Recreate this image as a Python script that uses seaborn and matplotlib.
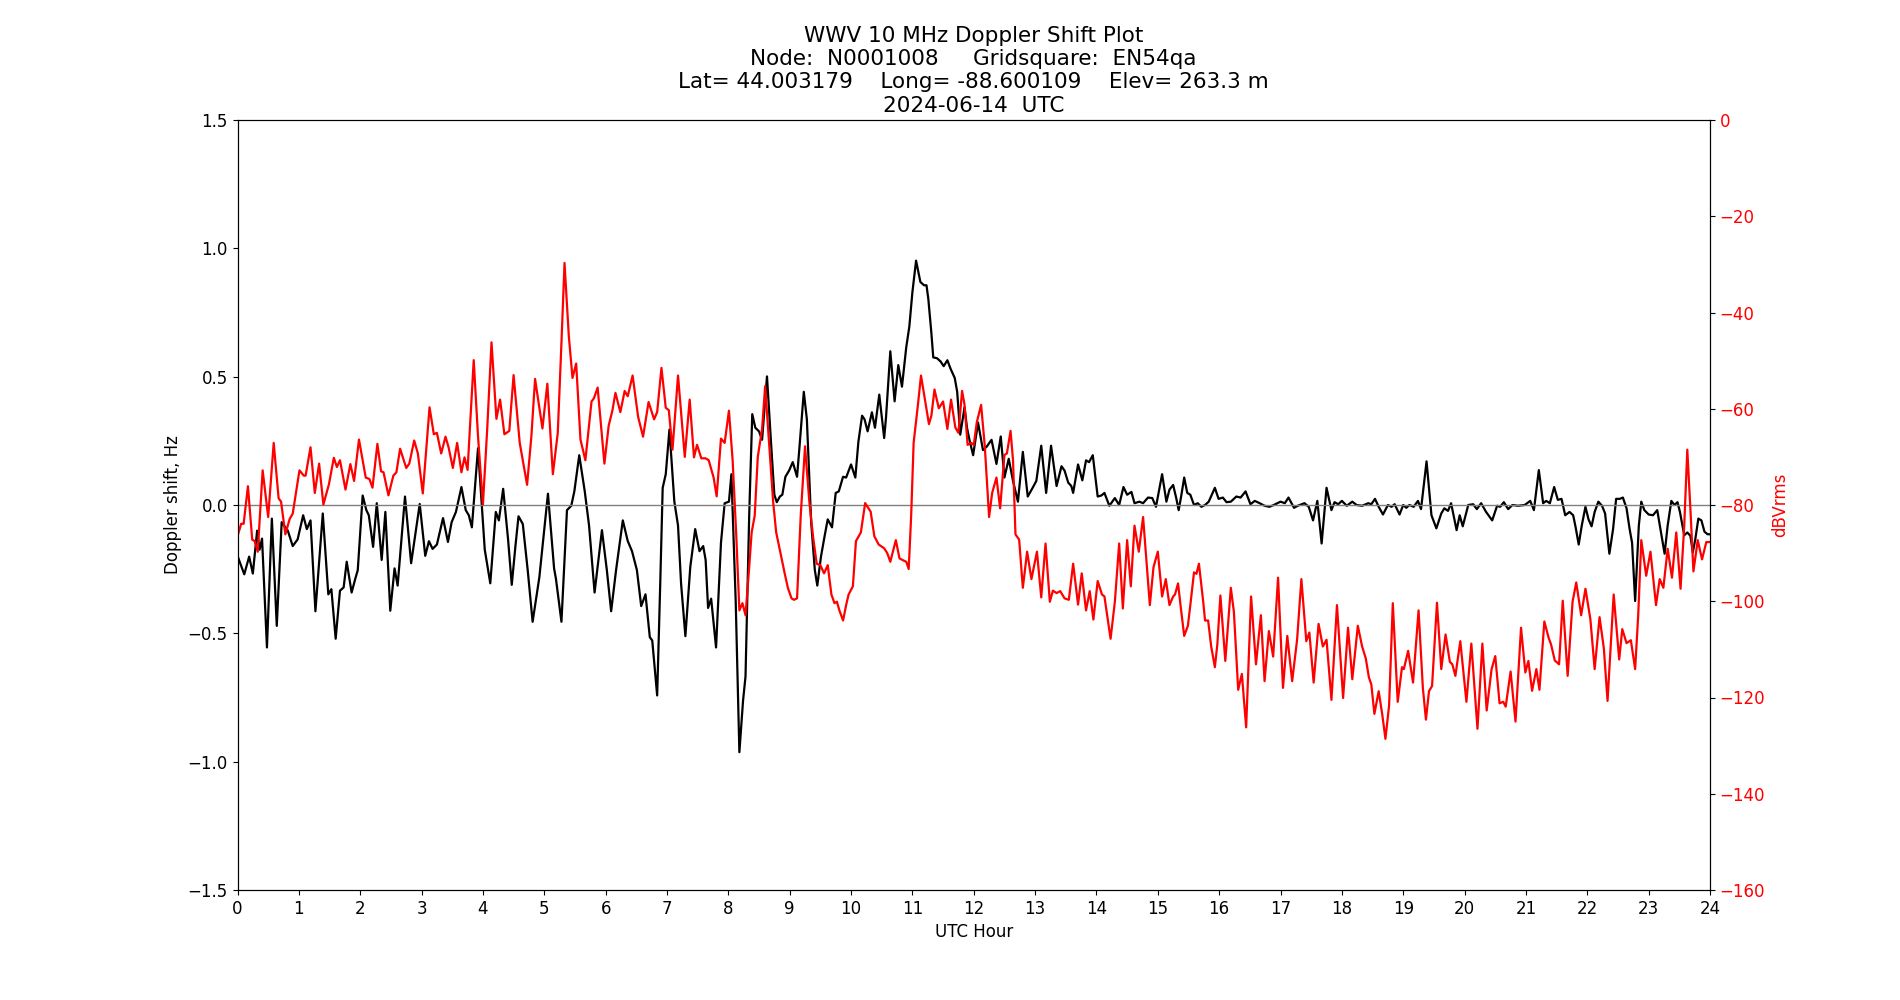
import numpy as np
import pandas as pd
import seaborn as sns
import matplotlib
matplotlib.use("Agg")
import matplotlib.pyplot as plt

### values (UTC hour, Doppler shift in Hz, signal level in dBVrms)
doppler_hour = [
    0.00, 0.11, 0.19, 0.25, 0.32, 0.36, 0.40, 0.48, 0.56, 0.64, 0.72, 0.82, 0.90, 0.98,
    1.07, 1.13, 1.19, 1.27, 1.39, 1.48, 1.53, 1.60, 1.67, 1.73, 1.78, 1.86, 1.92, 1.96,
    2.04, 2.10, 2.14, 2.21, 2.27, 2.35, 2.41, 2.49, 2.56, 2.61, 2.73, 2.83, 2.97,
    3.06, 3.12, 3.18, 3.25, 3.35, 3.43, 3.49, 3.56, 3.65, 3.72, 3.77, 3.82, 3.92,
    4.03, 4.12, 4.21, 4.26, 4.33, 4.41, 4.47, 4.53, 4.58, 4.65, 4.73, 4.81, 4.92,
    5.06, 5.16, 5.19, 5.28, 5.37, 5.44, 5.49, 5.57, 5.66, 5.73, 5.82, 5.94,
    6.02, 6.09, 6.17, 6.28, 6.36, 6.43, 6.51, 6.58, 6.65, 6.72, 6.76, 6.84, 6.89, 6.93, 6.98,
    7.04, 7.12, 7.18, 7.23, 7.30, 7.38, 7.46, 7.53, 7.59, 7.63, 7.67, 7.72, 7.80, 7.88, 7.94,
    8.01, 8.05, 8.12, 8.18, 8.24, 8.28, 8.34, 8.39, 8.44, 8.50, 8.55, 8.63, 8.70, 8.75, 8.79, 8.84, 8.88, 8.93, 8.99,
    9.05, 9.12, 9.16, 9.23, 9.28, 9.35, 9.41, 9.45, 9.51, 9.57, 9.62, 9.69, 9.75, 9.80, 9.87, 9.92,
    10.00, 10.07, 10.12, 10.18, 10.22, 10.27, 10.34, 10.39, 10.46, 10.54, 10.57, 10.64, 10.71, 10.77, 10.83, 10.90, 10.95, 11.00,
    11.06, 11.13, 11.19, 11.23, 11.26, 11.31, 11.34, 11.40, 11.46, 11.51, 11.57, 11.62, 11.69, 11.73, 11.78, 11.85, 11.89, 11.93, 11.99,
    12.07, 12.15, 12.21, 12.29, 12.37, 12.44, 12.50, 12.57, 12.64, 12.72, 12.80, 12.88, 12.96,
    13.02, 13.10, 13.18, 13.26, 13.35, 13.43, 13.48, 13.54, 13.59, 13.62, 13.70, 13.77, 13.83, 13.88, 13.94,
    14.02, 14.08, 14.13, 14.21, 14.30, 14.37, 14.44, 14.50, 14.57, 14.62, 14.70, 14.76, 14.84, 14.91, 14.97,
    15.07, 15.14, 15.19, 15.25, 15.30, 15.34, 15.38, 15.43, 15.48, 15.53, 15.59, 15.65, 15.71, 15.77, 15.83, 15.93, 15.99,
    16.06, 16.12, 16.19, 16.28, 16.35, 16.43, 16.51, 16.58, 16.66, 16.74, 16.82, 16.89,
    17.00, 17.07, 17.13, 17.22, 17.28, 17.39, 17.46, 17.53, 17.60, 17.67, 17.75, 17.83, 17.88, 17.94,
    18.00, 18.08, 18.17, 18.24, 18.33, 18.43, 18.48, 18.54, 18.60, 18.67, 18.75, 18.81, 18.86, 18.94, 19.00,
    19.05, 19.10, 19.17, 19.24, 19.29, 19.38, 19.46, 19.54, 19.62, 19.67, 19.73, 19.78, 19.87, 19.92, 19.97,
    20.06, 20.14, 20.20, 20.27, 20.35, 20.45, 20.53, 20.58, 20.64, 20.71, 20.78, 20.87, 20.98,
    21.07, 21.13, 21.21, 21.28, 21.33, 21.39, 21.46, 21.52, 21.58, 21.64, 21.71, 21.77, 21.81, 21.86, 21.91, 21.97,
    22.02, 22.07, 22.12, 22.18, 22.24, 22.29, 22.36, 22.42, 22.47, 22.53, 22.58, 22.64, 22.69, 22.73, 22.78, 22.84, 22.88, 22.93,
    23.00, 23.07, 23.14, 23.21, 23.26, 23.31, 23.37, 23.42, 23.47, 23.51, 23.58, 23.63, 23.68, 23.72, 23.76, 23.81, 23.86, 23.91, 23.96, 24.00,
]
doppler_hz = [
    -0.198, -0.270, -0.201, -0.267, -0.100, -0.174, -0.131, -0.555, -0.053, -0.471, -0.067, -0.100, -0.160, -0.134,
    -0.040, -0.094, -0.060, -0.414, -0.033, -0.348, -0.328, -0.521, -0.334, -0.321, -0.221, -0.341, -0.287, -0.254,
    0.037, -0.020, -0.040, -0.163, 0.007, -0.214, -0.027, -0.412, -0.247, -0.314, 0.033, -0.227, 0.004,
    -0.198, -0.141, -0.171, -0.154, -0.051, -0.144, -0.067, -0.027, 0.070, -0.020, -0.040, -0.087, 0.221,
    -0.174, -0.305, -0.027, -0.060, 0.063, -0.134, -0.311, -0.160, -0.044, -0.074, -0.254, -0.455, -0.281,
    0.044, -0.247, -0.287, -0.455, -0.020, -0.003, 0.053, 0.194, 0.053, -0.080, -0.341, -0.098,
    -0.254, -0.414, -0.254, -0.060, -0.140, -0.180, -0.254, -0.394, -0.348, -0.515, -0.528, -0.742, -0.307, 0.067, 0.120,
    0.294, 0.013, -0.080, -0.307, -0.511, -0.241, -0.094, -0.180, -0.160, -0.214, -0.401, -0.365, -0.555, -0.147, 0.007,
    0.013, 0.120, -0.374, -0.963, -0.762, -0.668, -0.040, 0.354, 0.301, 0.287, 0.254, 0.501, 0.227, 0.040, 0.011, 0.033, 0.040, 0.110, 0.134,
    0.167, 0.110, 0.227, 0.441, 0.334, -0.067, -0.254, -0.314, -0.201, -0.120, -0.056, -0.087, 0.047, 0.053, 0.110, 0.107,
    0.158, 0.107, 0.247, 0.348, 0.334, 0.287, 0.361, 0.301, 0.430, 0.261, 0.341, 0.599, 0.404, 0.545, 0.461, 0.615, 0.695, 0.829,
    0.952, 0.869, 0.856, 0.856, 0.802, 0.668, 0.575, 0.572, 0.559, 0.541, 0.564, 0.532, 0.495, 0.441, 0.274, 0.381, 0.301, 0.254, 0.194,
    0.321, 0.214, 0.227, 0.254, 0.160, 0.267, 0.107, 0.180, 0.094, 0.013, 0.207, 0.033, 0.067,
    0.094, 0.231, 0.047, 0.231, 0.074, 0.151, 0.134, 0.087, 0.074, 0.047, 0.158, 0.096, 0.174, 0.167, 0.194,
    0.033, 0.037, 0.047, -0.003, 0.027, 0.000, 0.070, 0.040, 0.051, 0.007, 0.013, 0.007, 0.029, 0.027, -0.007,
    0.120, 0.013, 0.060, 0.078, 0.027, -0.020, 0.033, 0.107, 0.047, 0.040, 0.000, 0.007, -0.007, 0.000, 0.013, 0.067, 0.024,
    0.029, 0.011, 0.013, 0.033, 0.029, 0.053, 0.003, 0.016, 0.007, -0.003, -0.007, 0.000,
    0.013, 0.007, 0.029, -0.011, -0.003, 0.007, -0.007, -0.060, 0.016, -0.150, 0.067, -0.020, 0.011, 0.003,
    0.016, -0.003, 0.013, 0.000, -0.003, 0.007, 0.003, 0.024, -0.007, -0.037, 0.000, -0.007, 0.003, -0.037, 0.000,
    -0.011, 0.000, -0.007, 0.016, -0.016, 0.170, -0.040, -0.091, -0.033, -0.013, -0.023, 0.007, -0.098, -0.040, -0.083,
    0.000, 0.003, -0.016, 0.007, -0.027, -0.060, -0.003, -0.007, 0.011, -0.016, 0.000, -0.003, 0.000,
    0.016, -0.020, 0.136, 0.007, 0.016, 0.007, 0.070, 0.020, 0.024, -0.040, -0.027, -0.040, -0.087, -0.154, -0.080, -0.007,
    -0.056, -0.083, -0.027, 0.013, -0.003, -0.033, -0.190, -0.094, 0.024, 0.024, 0.029, -0.013, -0.094, -0.147, -0.374, -0.080, 0.013, -0.020,
    -0.037, -0.040, -0.020, -0.120, -0.190, -0.080, 0.016, 0.000, 0.011, -0.027, -0.118, -0.107, -0.120, -0.184, -0.134, -0.053, -0.060, -0.104, -0.114, -0.114,
]

level_hour = [
    0.00, 0.06, 0.10, 0.17, 0.24, 0.28, 0.33, 0.41, 0.50, 0.59, 0.67, 0.71, 0.78, 0.85, 0.90,
    1.01, 1.08, 1.11, 1.19, 1.26, 1.33, 1.40, 1.49, 1.57, 1.62, 1.67, 1.76, 1.84, 1.90, 1.98,
    2.09, 2.15, 2.20, 2.28, 2.34, 2.38, 2.46, 2.54, 2.59, 2.65, 2.75, 2.80, 2.88, 2.94,
    3.02, 3.13, 3.20, 3.25, 3.32, 3.39, 3.44, 3.51, 3.58, 3.65, 3.70, 3.75, 3.85, 3.92, 4.00,
    4.07, 4.14, 4.22, 4.28, 4.35, 4.43, 4.50, 4.60, 4.65, 4.72, 4.79, 4.85, 4.97,
    5.05, 5.14, 5.22, 5.28, 5.33, 5.40, 5.46, 5.52, 5.59, 5.67, 5.77, 5.81, 5.87, 5.98,
    6.05, 6.11, 6.16, 6.24, 6.31, 6.36, 6.44, 6.53, 6.61, 6.70, 6.79, 6.84, 6.91, 6.98,
    7.03, 7.09, 7.18, 7.29, 7.37, 7.44, 7.49, 7.56, 7.63, 7.68, 7.76, 7.81, 7.88, 7.94,
    8.01, 8.07, 8.13, 8.18, 8.23, 8.28, 8.34, 8.38, 8.43, 8.48, 8.55, 8.60, 8.66, 8.73, 8.78, 8.85, 8.92, 8.97,
    9.03, 9.07, 9.12, 9.18, 9.25, 9.32, 9.38, 9.44, 9.50, 9.56, 9.62, 9.68, 9.73, 9.77, 9.81, 9.87, 9.92, 9.96,
    10.03, 10.08, 10.16, 10.23, 10.32, 10.38, 10.45, 10.54, 10.59, 10.64, 10.73, 10.79, 10.85, 10.90, 10.94, 10.98,
    11.02, 11.09, 11.14, 11.20, 11.27, 11.31, 11.36, 11.43, 11.50, 11.57, 11.63, 11.70, 11.75, 11.81, 11.85, 11.90, 11.96,
    12.00, 12.05, 12.12, 12.18, 12.25, 12.30, 12.37, 12.43, 12.50, 12.54, 12.60, 12.64, 12.68, 12.74, 12.80, 12.87, 12.94,
    13.03, 13.10, 13.17, 13.24, 13.29, 13.35, 13.41, 13.48, 13.55, 13.62, 13.70, 13.76, 13.83, 13.89, 13.95,
    14.02, 14.09, 14.13, 14.23, 14.30, 14.37, 14.43, 14.50, 14.56, 14.62, 14.69, 14.76, 14.87, 14.93,
    15.00, 15.07, 15.13, 15.19, 15.25, 15.28, 15.33, 15.37, 15.43, 15.49, 15.53, 15.59, 15.63, 15.67, 15.74, 15.77, 15.82, 15.87, 15.93, 15.97,
    16.02, 16.10, 16.19, 16.24, 16.31, 16.37, 16.44, 16.52, 16.60, 16.68, 16.74, 16.81, 16.88, 16.96,
    17.04, 17.11, 17.19, 17.27, 17.34, 17.42, 17.47, 17.54, 17.62, 17.69, 17.75, 17.83, 17.92,
    18.02, 18.10, 18.17, 18.26, 18.33, 18.39, 18.44, 18.48, 18.53, 18.60, 18.66, 18.71, 18.77, 18.83, 18.91, 18.98,
    19.01, 19.08, 19.16, 19.25, 19.32, 19.37, 19.42, 19.47, 19.55, 19.62, 19.69, 19.76, 19.80, 19.85, 19.93,
    20.03, 20.11, 20.21, 20.29, 20.36, 20.44, 20.50, 20.57, 20.63, 20.67, 20.75, 20.83, 20.92, 20.99,
    21.04, 21.10, 21.17, 21.22, 21.30, 21.37, 21.41, 21.47, 21.54, 21.60, 21.68, 21.76, 21.82, 21.90, 21.97,
    22.05, 22.12, 22.20, 22.27, 22.33, 22.43, 22.52, 22.57, 22.64, 22.71, 22.78, 22.83, 22.88, 22.96,
    23.03, 23.12, 23.18, 23.24, 23.31, 23.38, 23.45, 23.52, 23.58, 23.63, 23.68, 23.73, 23.80, 23.87, 23.94, 24.00,
]
level_db = [
    -86.5, -83.9, -83.9, -76.1, -87.2, -87.5, -89.7, -72.8, -82.5, -67.1, -78.6, -79.3, -86.1, -82.9, -81.8,
    -72.8, -73.9, -73.9, -68.0, -77.5, -71.4, -79.9, -75.7, -70.2, -72.1, -70.7, -76.8, -71.5, -75.0, -66.4,
    -74.3, -74.6, -76.4, -67.3, -73.0, -73.2, -78.0, -73.9, -73.2, -68.3, -72.3, -71.4, -66.6, -69.3,
    -77.6, -59.7, -65.3, -65.0, -69.3, -65.8, -68.0, -72.3, -67.1, -73.2, -70.1, -72.7, -49.9, -65.7, -79.9,
    -64.2, -46.2, -62.1, -58.1, -65.3, -64.6, -53.0, -67.1, -70.7, -75.8, -65.7, -53.8, -64.1,
    -54.8, -73.6, -65.0, -46.3, -29.7, -44.9, -53.6, -50.6, -66.4, -70.7, -58.5, -57.8, -55.6, -71.4,
    -63.5, -60.4, -56.7, -60.7, -56.3, -57.4, -53.1, -61.7, -65.8, -58.6, -62.2, -60.7, -51.5, -59.8,
    -60.3, -68.5, -53.1, -70.0, -58.1, -70.1, -67.5, -70.3, -70.3, -70.7, -74.3, -78.2, -66.2, -67.1,
    -60.4, -70.7, -86.5, -101.9, -100.4, -102.9, -92.9, -85.7, -82.2, -70.0, -64.2, -55.3, -66.4, -79.3, -85.7, -90.0, -94.3, -97.2,
    -99.4, -99.7, -99.4, -82.2, -67.8, -79.3, -86.5, -92.2, -92.5, -94.2, -92.5, -98.6, -100.4, -100.1, -101.9, -104.0, -100.8, -98.6,
    -96.9, -87.5, -85.7, -79.6, -81.4, -86.5, -88.2, -89.0, -90.0, -91.8, -87.3, -91.1, -91.5, -91.8, -93.3, -82.2,
    -67.1, -59.2, -53.1, -57.8, -63.2, -61.4, -56.0, -59.9, -58.5, -64.2, -58.1, -63.9, -65.0, -56.3, -59.2, -67.5, -67.1,
    -67.5, -62.8, -59.2, -67.8, -82.5, -77.5, -74.3, -80.7, -69.6, -69.3, -64.6, -70.7, -86.1, -87.2, -97.2, -89.7, -95.4,
    -89.7, -99.2, -88.0, -100.1, -97.8, -98.3, -97.9, -99.4, -99.7, -92.2, -100.7, -94.2, -101.9, -97.9, -103.8,
    -95.8, -98.6, -99.0, -107.8, -100.1, -88.0, -101.5, -87.3, -96.9, -84.3, -89.7, -82.5, -100.8, -92.9,
    -89.7, -99.0, -95.4, -100.8, -99.0, -98.6, -96.3, -100.8, -107.2, -105.1, -100.8, -94.0, -94.3, -92.2, -100.1, -104.0, -104.0, -109.4, -113.7, -109.0,
    -98.8, -112.4, -97.2, -102.2, -118.4, -115.1, -126.2, -99.0, -113.1, -102.9, -116.6, -106.2, -111.5, -95.1,
    -118.0, -107.2, -116.6, -108.0, -95.4, -108.3, -106.5, -116.9, -104.7, -109.4, -108.0, -120.5, -100.8,
    -120.1, -105.5, -116.2, -105.1, -109.4, -111.9, -115.8, -117.3, -123.4, -118.7, -123.7, -128.6, -121.6, -100.4, -120.9, -113.7,
    -114.1, -110.3, -116.9, -101.9, -118.0, -124.6, -118.7, -117.6, -100.3, -114.1, -106.9, -112.6, -113.1, -115.5, -108.3,
    -120.9, -108.8, -126.5, -108.8, -122.7, -114.1, -111.4, -121.2, -120.9, -121.9, -114.6, -125.0, -105.5, -114.8,
    -112.4, -118.6, -114.1, -118.4, -104.2, -107.6, -109.0, -112.3, -113.1, -99.9, -115.5, -100.1, -96.1, -102.9, -97.4,
    -103.7, -114.1, -103.3, -109.8, -120.7, -98.6, -112.1, -105.8, -108.7, -108.1, -114.1, -102.9, -87.3, -94.7,
    -89.7, -100.8, -95.4, -97.2, -89.1, -95.1, -85.7, -97.4, -84.3, -68.5, -80.7, -93.8, -87.3, -91.3, -87.7, -87.7,
]

hour_ticks = list(range(0, 25))
hz_ticks = [-1.5, -1.0, -0.5, 0.0, 0.5, 1.0, 1.5]
db_ticks = [-160, -140, -120, -100, -80, -60, -40, -20, 0]

title_lines = ["WWV 10 MHz Doppler Shift Plot",
               "Node:  N0001008     Gridsquare:  EN54qa",
               "Lat= 44.003179    Long= -88.600109    Elev= 263.3 m",
               "2024-06-14  UTC"]

doppler = pd.DataFrame({"hour": doppler_hour, "hz": doppler_hz})
level = pd.DataFrame({"hour": level_hour, "db": level_db})

plt.rcParams["font.size"] = 12
plt.rcParams["font.family"] = ["DejaVu Sans"]

fig, ax = plt.subplots(figsize=(19, 10), dpi=100)

sns.lineplot(data=doppler, x="hour", y="hz", ax=ax, color="black", linewidth=1.6,
             estimator=None, sort=False)
ax.axhline(0, color="grey", linewidth=1)
ax.set_xlim(0, 24)
ax.set_ylim(-1.5, 1.5)
ax.set_xticks(hour_ticks)
ax.set_yticks(hz_ticks)
ax.set_xlabel("UTC Hour")
ax.set_ylabel("Doppler shift, Hz")
ax.set_title("\n".join(title_lines), fontsize=15.5)

ax2 = ax.twinx()
sns.lineplot(data=level, x="hour", y="db", ax=ax2, color="red", linewidth=1.6,
             estimator=None, sort=False)
ax2.set_ylim(-160, 0)
ax2.set_yticks(db_ticks)
ax2.set_ylabel("dBVrms", color="red")
ax2.tick_params(axis="y", labelcolor="red")

plt.savefig("out.png", dpi=100)
